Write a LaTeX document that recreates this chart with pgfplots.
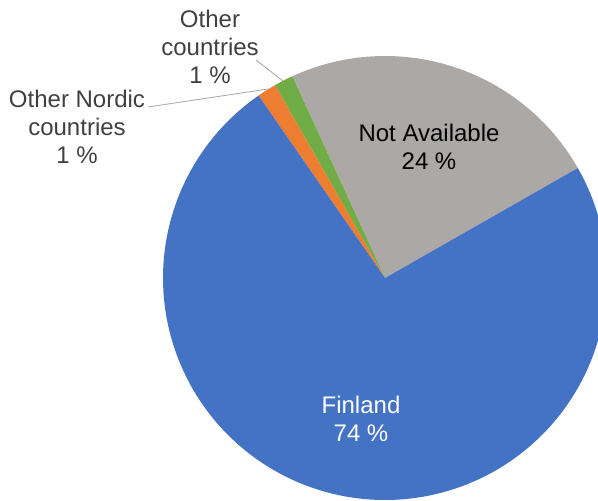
\documentclass[border=0pt]{standalone}
\usepackage{pgfplots}
\pgfplotsset{compat=1.18}
\usepackage{fontspec}
\setmainfont{Liberation Sans}
\definecolor{cFin}{HTML}{4472C4}
\definecolor{cNA}{HTML}{ABA8A6}
\definecolor{cOth}{HTML}{70AD47}
\definecolor{cNor}{HTML}{ED7D31}
\definecolor{cLbl}{HTML}{404040}
% shares in percent
\def\pNA{23.6}
\def\pOth{1.4}
\def\pNor{1.4}
\def\pFin{73.6}
\def\start{29.7}
\pgfmathsetmacro\aA{\start}
\pgfmathsetmacro\aB{\aA+3.6*\pNA}
\pgfmathsetmacro\aC{\aB+3.6*\pOth}
\pgfmathsetmacro\aD{\aC+3.6*\pNor}
\pgfmathsetmacro\aE{\aD+3.6*\pFin}
\def\cx{385}
\def\cy{278}
\def\R{222}
\begin{document}
\begin{tikzpicture}
\begin{axis}[
  scale only axis, width=448.5pt, height=375pt,
  xmin=0, xmax=598, ymin=0, ymax=500, y dir=reverse,
  hide axis, clip=true,
]
\addplot[fill=cNA, draw=none, domain=\aA:\aB, samples=60] ({\cx+\R*cos(x)},{\cy-\R*sin(x)}) -- (axis cs:\cx,\cy) -- cycle;
\addplot[fill=cOth, draw=none, domain=\aB:\aC, samples=10] ({\cx+\R*cos(x)},{\cy-\R*sin(x)}) -- (axis cs:\cx,\cy) -- cycle;
\addplot[fill=cNor, draw=none, domain=\aC:\aD, samples=10] ({\cx+\R*cos(x)},{\cy-\R*sin(x)}) -- (axis cs:\cx,\cy) -- cycle;
\addplot[fill=cFin, draw=none, domain=\aD:\aE, samples=150] ({\cx+\R*cos(x)},{\cy-\R*sin(x)}) -- (axis cs:\cx,\cy) -- cycle;
\draw[gray!70, line width=0.6pt] (axis cs:256,60) -- (axis cs:283,81);
\draw[gray!70, line width=0.6pt] (axis cs:148,107) -- (axis cs:268,89);
\node[align=center, font=\fontsize{18}{21}\selectfont, text=cLbl] at (axis cs:210,47) {Other\\countries\\1 \%};
\node[align=center, font=\fontsize{18}{21}\selectfont, text=cLbl] at (axis cs:77,127) {Other Nordic\\countries\\1 \%};
\node[align=center, font=\fontsize{18}{21}\selectfont, text=black] at (axis cs:429,147) {Not Available\\24 \%};
\node[align=center, font=\fontsize{18}{21}\selectfont, text=white] at (axis cs:361,419) {Finland\\74 \%};
\end{axis}
\pgfresetboundingbox
\path (current axis.south west) rectangle (current axis.north east);
\end{tikzpicture}
\end{document}
